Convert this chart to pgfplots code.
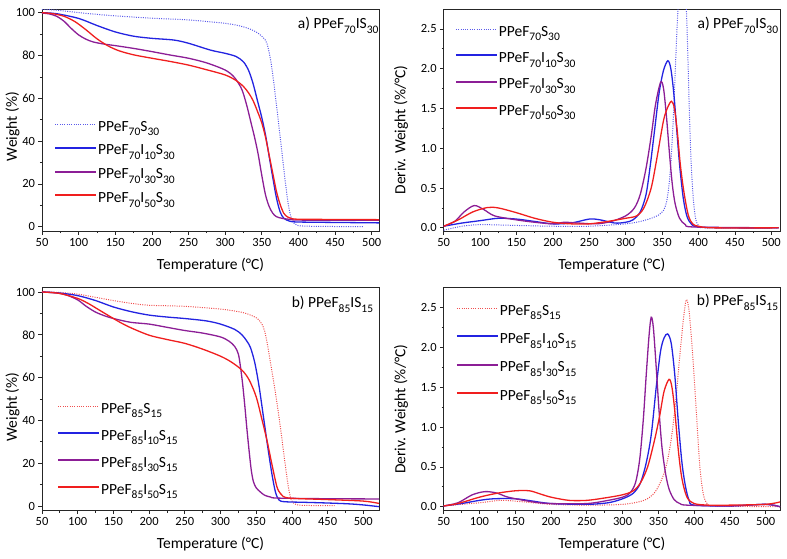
\documentclass[border=0pt]{standalone}
\usepackage{fontspec}
\setmainfont{Carlito}
\usepackage{pgfplots}
\pgfplotsset{compat=1.18}
\definecolor{cblue}{RGB}{35,35,225}
\definecolor{cpurp}{RGB}{140,30,150}
\definecolor{cred}{RGB}{240,30,30}
\definecolor{cdblue}{RGB}{90,90,235}
\definecolor{cdred}{RGB}{240,80,80}
\newcommand{\sub}[1]{\raisebox{-4.7pt}{\fontsize{11.5}{12}\selectfont #1}}
\newcommand{\lfont}{\fontsize{15.5}{16}\selectfont}
\pgfplotsset{
 panel/.style={
   scale only axis, anchor=south west,
   xmin=50, xtick={50,100,...,500}, minor x tick num=1, minor y tick num=1,
   tick align=outside, tick pos=left,
   major tick length=3.5pt, minor tick length=2pt,
   axis line style={black!85, line width=0.8pt},
   every tick/.style={black!85, line width=0.7pt},
   tick label style={font=\fontsize{12.5}{13}\selectfont},
   /pgf/number format/assume math mode=true,
   xlabel={Temperature (°C)},
   label style={font=\lfont},
   xlabel style={at={([yshift=-34pt]axis description cs:0.5,0)}, anchor=center},
   legend cell align=left,
   legend image code/.code={\draw[##1, line width=2pt] (0pt,0pt) -- (41pt,0pt);},
   every axis plot/.append style={smooth, tension=0.5, line width=1.3pt},
 },
 leg/.style n args={3}{legend style={draw=none, fill=none, inner sep=0pt, row sep=#3, at={(rel axis cs:#1,#2)}, anchor=north west, font=\lfont, nodes={inner sep=1pt, text height=14pt, text depth=0pt}}},
 dtg/.style={ymin=-0.04, ymax=2.75, ytick={0,0.5,1,1.5,2,2.5},
   yticklabel style={/pgf/number format/.cd, fixed, fixed zerofill, precision=1},
   ylabel={Deriv. Weight (\%/°C)}},
 dots/.style={line width=1pt, dash pattern=on 1pt off 1.3pt,
   legend image code/.code={\draw[##1, line width=1.1pt] (0pt,0pt) -- (41pt,0pt);}},
}
\begin{document}
\begin{tikzpicture}
\useasboundingbox (0,0) rectangle (787pt,-558pt);
% ---------------- a) TGA ----------------
\begin{axis}[panel, at={(42pt,-231pt)}, width=337pt, height=222pt, xmax=510,
  ymin=-2, ymax=101.7, ytick={0,20,...,100}, ylabel={Weight (\%)},
  ylabel style={at={([xshift=-29.5pt]axis description cs:0,0.47)}, anchor=center},
  leg={0.0356}{0.518}{7.7pt}]
\addplot[cdblue, dots] coordinates {(50,101.6)(75,101.0)(100,100.0)(125,99.2)(150,98.5)(200,97.4)(250,96.6)(300,95.0)(320,93.8)(335,92.2)(345,90.4)(352,88.3)(357,85.7)(362,78)(366.5,67)(371,54)(375.6,40.5)(380,27)(384.7,14)(388,7)(391.5,3)(395,1.3)(400,0.5)(420,0.2)(488,0.0)};
\addlegendentry{PPeF\sub{70}S\sub{30}}
\addplot[cblue] coordinates {(50,100)(70,99.5)(100,97.3)(125,94)(150,91)(175,89)(200,88)(230,87.2)(250,85.7)(280,82.5)(300,81)(315,79.5)(325,77)(332,73)(338,67)(344,59)(350,51)(355,43)(360,33)(365,23)(370,13.5)(375,7)(380,4)(388,2.6)(400,2.2)(450,2)(510,1.8)};
\addlegendentry{PPeF\sub{70}I\sub{10}S\sub{30}}
\addplot[cpurp] coordinates {(50,99.8)(60,99.4)(70,98.3)(80,96)(90,92.6)(100,89.6)(110,87.6)(120,86.3)(135,85.3)(150,84.6)(175,83.3)(200,81.8)(225,80.2)(250,78.7)(275,76.5)(300,73.2)(312,70)(321,65.4)(325,62)(330,56)(335,49)(340,42)(345,34)(350,24)(355,15)(360,9.5)(365,6.3)(370,4.7)(378,3.9)(390,3.4)(403,3.1)(510,3.0)};
\addlegendentry{PPeF\sub{70}I\sub{30}S\sub{30}}
\addplot[cred] coordinates {(50,100)(65,99.5)(80,98.3)(95,95.8)(110,92)(125,87.8)(140,84.5)(155,82.2)(175,80.3)(200,78.7)(225,77.2)(250,75.5)(275,73.3)(300,70.9)(315,68.3)(325,65.5)(332,62.5)(338,59)(344,54)(350,48.5)(355,42)(360,33.5)(365,25)(370,16.5)(375,10.5)(380,6.3)(385,4.6)(390,3.9)(400,3.5)(450,3.4)(510,3.3)};
\addlegendentry{PPeF\sub{70}I\sub{50}S\sub{30}}
\node[anchor=base east, inner sep=0pt, font=\lfont] at (rel axis cs:0.999,0.91) {a) PPeF\sub{70}IS\sub{30}};
\end{axis}
% ---------------- a) DTG ----------------
\begin{axis}[panel, dtg, at={(443.7pt,-231pt)}, width=336.3pt, height=222pt, xmax=512,
  ylabel style={at={([xshift=-42.7pt]axis description cs:0,0.455)}, anchor=center},
  leg={0.0327}{0.946}{10.3pt}]
\addplot[cdblue, dots] coordinates {(50,-0.03)(75,0.02)(100,0.04)(150,0.03)(200,0.02)(250,0.02)(300,0.05)(320,0.08)(335,0.12)(345,0.16)(352,0.22)(356,0.32)(359,0.5)(362,0.8)(365,1.3)(368,1.95)(371,2.6)(374,3.05)(377,3.3)(380,3.25)(382.5,2.95)(385,2.3)(387.5,1.45)(390,0.8)(393,0.35)(396,0.12)(400,0.03)(410,0.0)(510,0.0)};
\addlegendentry{PPeF\sub{70}S\sub{30}}
\addplot[cblue] coordinates {(50,0.02)(75,0.06)(100,0.09)(125,0.12)(150,0.11)(175,0.08)(200,0.05)(225,0.06)(250,0.11)(265,0.1)(285,0.06)(300,0.07)(310,0.1)(320,0.2)(328,0.42)(334,0.8)(340,1.25)(346,1.7)(352,1.98)(358,2.1)(362,2.0)(366,1.7)(370,1.25)(374,0.8)(379,0.38)(384,0.15)(390,0.05)(400,0.01)(450,0.0)(510,0.0)};
\addlegendentry{PPeF\sub{70}I\sub{10}S\sub{30}}
\addplot[cpurp] coordinates {(50,0.02)(65,0.08)(78,0.2)(92,0.28)(105,0.23)(120,0.15)(150,0.1)(175,0.07)(200,0.05)(215,0.07)(235,0.06)(260,0.05)(280,0.08)(300,0.15)(312,0.25)(320,0.42)(328,0.75)(335,1.15)(341,1.55)(348,1.83)(352,1.75)(356,1.4)(360,0.95)(364,0.55)(368,0.3)(374,0.12)(382,0.04)(395,0.01)(510,0.0)};
\addlegendentry{PPeF\sub{70}I\sub{30}S\sub{30}}
\addplot[cred] coordinates {(50,0.02)(70,0.1)(90,0.2)(110,0.255)(125,0.25)(150,0.19)(175,0.12)(200,0.07)(225,0.05)(250,0.05)(275,0.08)(300,0.12)(315,0.15)(325,0.25)(335,0.5)(343,0.88)(352,1.35)(358,1.52)(363,1.59)(367,1.5)(371,1.2)(375,0.8)(380,0.45)(386,0.16)(392,0.05)(400,0.02)(420,0.0)(510,0.0)};
\addlegendentry{PPeF\sub{70}I\sub{50}S\sub{30}}
\node[anchor=base east, inner sep=0pt, font=\lfont] at (rel axis cs:0.995,0.912) {a) PPeF\sub{70}IS\sub{30}};
\end{axis}
% ---------------- b) TGA ----------------
\begin{axis}[panel, at={(42pt,-510.7pt)}, width=337pt, height=223pt, xmax=522,
  ymin=-2.2, ymax=102, ytick={0,20,...,100}, ylabel={Weight (\%)},
  ylabel style={at={([xshift=-29.5pt]axis description cs:0,0.465)}, anchor=center},
  xlabel style={at={([yshift=-33.3pt]axis description cs:0.5,0)}, anchor=center},
  leg={0.0445}{0.505}{11pt}]
\addplot[cdred, dots] coordinates {(50,100)(75,99.8)(100,99)(125,97.5)(150,96)(175,94.7)(200,93.8)(250,93.3)(300,92)(330,90.5)(345,88.8)(352,87.5)(358,85)(362,81.5)(366,75)(370,67)(375,57)(380,46)(385,34)(390,21)(395,9)(399,3)(404,1)(415,0.3)(460,0.2)};
\addlegendentry{PPeF\sub{85}S\sub{15}}
\addplot[cblue] coordinates {(50,100)(75,99.5)(100,98.3)(125,96)(150,93)(175,90.8)(200,89.2)(225,88.3)(250,87.6)(280,86.5)(300,85)(320,82.5)(330,80)(337,77)(342,74)(348,67)(354,56)(360,42)(366,28)(372,15)(377,6.5)(382,2.8)(390,2)(420,1.7)(450,1.4)(480,1)(500,0.5)(522,-0.3)};
\addlegendentry{PPeF\sub{85}I\sub{10}S\sub{15}}
\addplot[cpurp] coordinates {(50,100)(70,99.6)(85,98.5)(100,96.3)(112,93.3)(125,90.6)(140,88.6)(155,87.2)(175,85.8)(200,85)(225,83.5)(250,82)(275,80.8)(300,79)(312,77)(320,74.5)(325,71)(328,65)(331,57)(334,47)(337,36)(340,26)(343,17)(346,11.5)(350,8.5)(356,6.5)(362,5)(370,4.2)(380,3.7)(450,3.4)(522,3.3)};
\addlegendentry{PPeF\sub{85}I\sub{30}S\sub{15}}
\addplot[cred] coordinates {(50,100)(75,99.3)(100,97)(115,94.6)(130,91.6)(145,88.6)(160,85.7)(175,83.2)(200,79.8)(225,77.8)(250,76)(275,73.3)(300,70)(315,67.3)(330,63.5)(340,59)(350,51)(358,40.5)(365,30.8)(372,19.5)(379,9)(384,5.8)(388,4.4)(400,3.6)(450,3)(500,2.3)(522,1.2)};
\addlegendentry{PPeF\sub{85}I\sub{50}S\sub{15}}
\node[anchor=base east, inner sep=0pt, font=\lfont] at (rel axis cs:0.983,0.91) {b) PPeF\sub{85}IS\sub{15}};
\end{axis}
% ---------------- b) DTG ----------------
\begin{axis}[panel, dtg, at={(443.7pt,-510.7pt)}, width=336.3pt, height=223pt, xmax=520, ymin=-0.05,
  ylabel style={at={([xshift=-42.7pt]axis description cs:0,0.455)}, anchor=center},
  xlabel style={at={([yshift=-33.3pt]axis description cs:0.5,0)}, anchor=center},
  leg={0.0357}{0.945}{12.3pt}]
\addplot[cdred, dots] coordinates {(50,0.01)(75,0.03)(100,0.05)(130,0.08)(150,0.07)(175,0.05)(200,0.03)(250,0.02)(300,0.03)(330,0.08)(345,0.18)(355,0.35)(362,0.55)(368,0.85)(374,1.3)(380,1.9)(385,2.35)(389,2.6)(393,2.45)(398,1.9)(403,1.2)(408,0.5)(413,0.15)(418,0.04)(425,0.01)(520,0.0)};
\addlegendentry{PPeF\sub{85}S\sub{15}}
\addplot[cblue] coordinates {(50,0.01)(75,0.04)(100,0.08)(120,0.1)(150,0.1)(175,0.07)(200,0.04)(250,0.03)(280,0.05)(300,0.1)(315,0.17)(325,0.3)(333,0.55)(340,0.9)(347,1.5)(353,1.95)(358,2.12)(363,2.17)(368,2.05)(373,1.65)(378,1.05)(383,0.55)(388,0.25)(393,0.08)(400,0.02)(450,0.01)(500,0.03)(520,0.0)};
\addlegendentry{PPeF\sub{85}I\sub{10}S\sub{15}}
\addplot[cpurp] coordinates {(50,0.01)(70,0.05)(90,0.15)(108,0.19)(125,0.17)(140,0.12)(175,0.06)(200,0.04)(250,0.04)(280,0.08)(300,0.12)(310,0.17)(318,0.3)(324,0.6)(329,1.1)(333,1.65)(337,2.15)(340,2.38)(343,2.25)(347,1.75)(351,1.2)(355,0.75)(360,0.42)(365,0.22)(372,0.09)(380,0.04)(390,0.02)(450,0.01)(500,0.03)(520,0.0)};
\addlegendentry{PPeF\sub{85}I\sub{30}S\sub{15}}
\addplot[cred] coordinates {(50,0.01)(70,0.04)(100,0.12)(125,0.17)(150,0.2)(170,0.2)(185,0.16)(200,0.12)(225,0.08)(250,0.08)(275,0.11)(300,0.15)(315,0.2)(325,0.3)(335,0.5)(345,0.85)(352,1.15)(358,1.45)(365,1.6)(369,1.5)(373,1.2)(378,0.7)(383,0.35)(390,0.12)(400,0.04)(420,0.02)(450,0.02)(500,0.03)(520,0.06)};
\addlegendentry{PPeF\sub{85}I\sub{50}S\sub{15}}
\node[anchor=base east, inner sep=0pt, font=\lfont] at (rel axis cs:0.995,0.918) {b) PPeF\sub{85}IS\sub{15}};
\end{axis}
\end{tikzpicture}
\end{document}
